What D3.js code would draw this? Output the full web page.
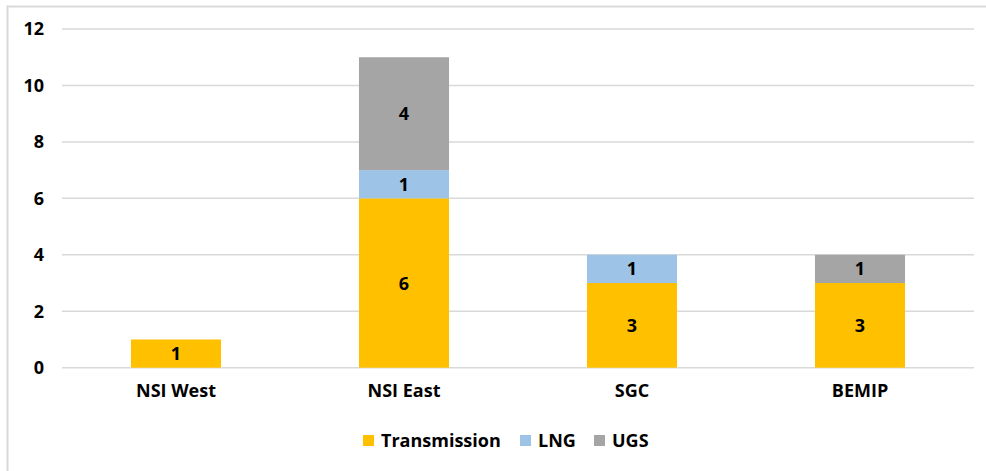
<!DOCTYPE html>
<html><head><meta charset="utf-8">
<script src="https://cdn.jsdelivr.net/npm/d3@7"></script>
<style>body{margin:0;background:#fff;}svg{display:block;font-family:"Open Sans",sans-serif;font-weight:bold;}</style>
</head><body>
<script>
const categories = ["NSI West", "NSI East", "SGC", "BEMIP"];
const seriesNames = ["Transmission", "LNG", "UGS"];
const transmission = [1, 6, 3, 3];
const lng = [0, 1, 1, 0];
const ugs = [0, 4, 0, 1];
const yTicks = [0, 2, 4, 6, 8, 10, 12];
const colors = ["#FFC000", "#9DC3E6", "#A5A5A5"];

const FONT = "'Open Sans',sans-serif";
const FS = 18;
const W = 986, H = 471;
const svg = d3.select("body").append("svg").attr("width", W).attr("height", H);

svg.append("path").attr("d", "M7.5,471 V6.5 H990").attr("fill", "none").attr("stroke", "#d9d9d9").attr("stroke-width", 2);

const x = d3.scaleBand().domain(categories).range([62, 974]).paddingInner(0.605).paddingOuter(0.3025);
const y = d3.scaleLinear().domain([0, 12]).range([367.7, 29]);

const grid = svg.append("g");
grid.selectAll("line").data(yTicks).join("line")
  .attr("x1", 62).attr("x2", 974)
  .attr("y1", d => y(d)).attr("y2", d => y(d))
  .attr("stroke", "#d9d9d9").attr("stroke-width", 1.5);

const yAxis = d3.axisLeft(y).tickValues(yTicks).tickSize(0).tickPadding(0);
const ya = svg.append("g").attr("transform", "translate(44,0)").call(yAxis);
ya.select(".domain").remove();
ya.selectAll("text").attr("font-size", FS).attr("fill", "#000").attr("font-family", FONT).attr("font-weight", "bold");

const rows = categories.map((c, i) => ({cat: c, Transmission: transmission[i], LNG: lng[i], UGS: ugs[i]}));
const stack = d3.stack().keys(seriesNames)(rows);

stack.forEach((layer, si) => {
  const g = svg.append("g");
  layer.forEach(d => {
    const v = d[1] - d[0];
    if (v <= 0) return;
    g.append("rect")
      .attr("x", x(d.data.cat)).attr("width", x.bandwidth())
      .attr("y", y(d[1])).attr("height", y(d[0]) - y(d[1]))
      .attr("fill", colors[si]);
    g.append("text")
      .attr("x", x(d.data.cat) + x.bandwidth() / 2)
      .attr("y", (y(d[0]) + y(d[1])) / 2)
      .attr("dy", "0.36em").attr("text-anchor", "middle")
      .attr("font-size", FS).attr("fill", "#000")
      .text(v);
  });
});

const xAxis = d3.axisBottom(x).tickSize(0).tickPadding(0);
const xa = svg.append("g").attr("transform", "translate(0,384)").call(xAxis);
xa.select(".domain").remove();
xa.selectAll("text").attr("font-size", FS).attr("fill", "#000").attr("font-family", FONT).attr("font-weight", "bold");

const legX = [363, 520, 594];
const leg = svg.append("g");
seriesNames.forEach((s, i) => {
  leg.append("rect").attr("x", legX[i]).attr("y", 435).attr("width", 11).attr("height", 11).attr("fill", colors[i]);
  leg.append("text").attr("x", legX[i] + 18).attr("y", 441).attr("dy", "0.36em")
    .attr("font-size", FS).attr("fill", "#000").text(s);
});
</script>
</body></html>
